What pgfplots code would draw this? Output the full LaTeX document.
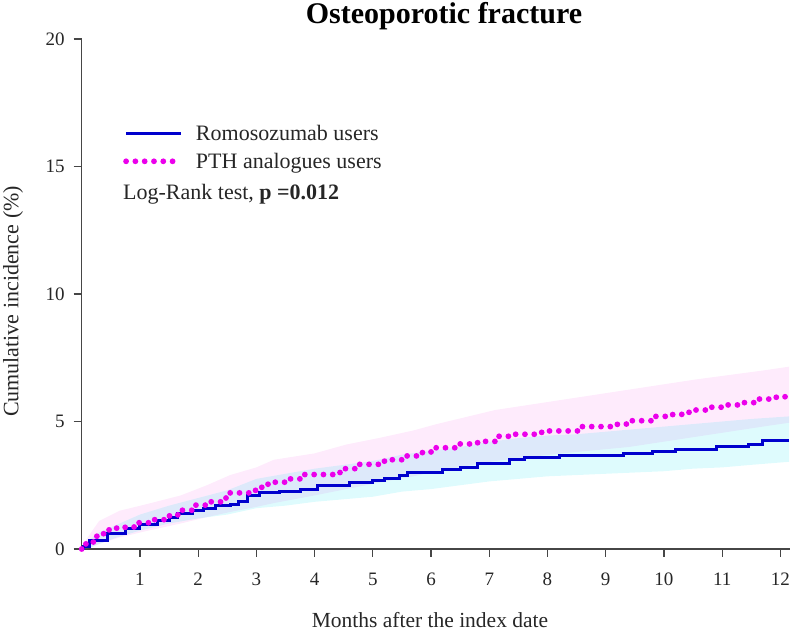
\documentclass[border=0pt]{standalone}
\usepackage{fontspec}
\setmainfont{Liberation Serif}
\usepackage{pgfplots}
\usepackage{pgfplotstable}
\pgfplotsset{compat=1.18}
\usepgfplotslibrary{fillbetween}

\definecolor{romoblue}{RGB}{0,0,205}
\definecolor{pthpink}{RGB}{235,0,235}
\definecolor{romoband}{RGB}{0,225,240}
\definecolor{pthband}{RGB}{245,60,225}
\definecolor{axisgray}{RGB}{70,70,70}

% Kaplan-Meier cumulative incidence, Romosozumab users
\pgfplotstableread{
m v
0 0
0.03 0.1
0.13 0.35
0.45 0.62
0.75 0.8
1.0 0.97
1.3 1.1
1.5 1.22
1.65 1.38
1.9 1.5
2.1 1.6
2.3 1.7
2.55 1.75
2.7 1.85
2.84 2.1
3.05 2.2
3.4 2.25
3.75 2.35
4.05 2.5
4.6 2.6
5.0 2.7
5.2 2.78
5.45 2.9
5.6 3.0
6.2 3.1
6.5 3.2
6.8 3.37
7.35 3.5
7.6 3.58
8.2 3.65
9.3 3.75
9.8 3.82
10.2 3.92
10.9 4.0
11.45 4.1
11.7 4.27
12.15 4.27
}\romo

% Cumulative incidence, PTH analogues users
\pgfplotstableread{
m v
0 0
0.05 0.2
0.2 0.5
0.3 0.6
0.45 0.75
0.6 0.85
0.9 1.03
1.15 1.15
1.45 1.3
1.65 1.52
1.9 1.72
2.2 1.85
2.45 2.0
2.55 2.2
2.95 2.3
3.05 2.42
3.2 2.62
3.5 2.75
3.8 2.92
4.4 3.0
4.5 3.15
4.75 3.32
5.2 3.5
5.55 3.65
5.85 3.78
6.0 3.97
6.5 4.12
6.8 4.22
7.1 4.42
7.45 4.5
7.9 4.63
8.6 4.8
9.2 4.9
9.38 5.03
9.85 5.2
10.15 5.28
10.35 5.36
10.5 5.45
10.8 5.56
11.1 5.65
11.3 5.74
11.6 5.88
11.9 5.95
12.08 6.04
12.15 6.04
}\pth

% 95% confidence bands
\pgfplotstableread{
m lo hi
0 0 0
0.1 0.0 0.3
0.3 0.2 0.65
0.6 0.45 0.95
1.0 0.72 1.35
1.5 1.0 1.7
2.0 1.2 2.0
2.5 1.35 2.3
3.0 1.6 2.75
3.5 1.7 2.95
4.0 1.85 3.15
4.5 1.95 3.3
5.0 2.05 3.45
5.5 2.25 3.7
6.0 2.35 3.85
6.5 2.5 4.0
7.0 2.65 4.2
7.5 2.75 4.35
8.0 2.85 4.45
8.5 2.9 4.5
9.0 2.95 4.6
9.5 3.0 4.7
10.0 3.05 4.8
10.5 3.15 4.9
11.0 3.2 5.0
11.5 3.3 5.1
12.15 3.42 5.2
}\romoci

\pgfplotstableread{
m lo hi
0 0 0
0.1 0.02 0.45
0.3 0.2 1.1
0.65 0.45 1.5
1.1 0.7 1.75
1.7 1.0 2.1
2.15 1.25 2.5
2.55 1.45 2.9
3.0 1.65 3.2
3.3 1.8 3.5
4.0 2.1 3.75
4.55 2.35 4.1
5.1 2.6 4.35
5.7 2.85 4.65
6.1 3.05 4.9
7.1 3.45 5.45
8.25 3.75 5.85
9.4 4.0 6.25
10.55 4.4 6.65
11.7 4.8 7.0
12.15 4.95 7.15
}\pthci

\begin{document}
\begin{tikzpicture}
\begin{axis}[
  at={(0pt,0pt)}, anchor=south west,
  scale only axis, width=708pt, height=510pt,
  xmin=0, xmax=12.16, ymin=0, ymax=20,
  axis x line*=bottom, axis y line*=left,
  axis line style={axisgray, line width=1.2pt},
  xtick={1,...,12}, ytick={0,5,10,15,20},
  tick align=outside, major tick length=8pt,
  tick style={axisgray, line width=1.2pt},
  /pgf/number format/assume math mode=true,
  ticklabel style={font=\fontsize{19}{21}\selectfont, text=black!85, inner sep=0pt},
  xticklabel style={anchor=north, yshift=-16pt},
  yticklabel style={anchor=east, xshift=-9pt},
  clip=false,
  legend cell align=left,
  legend style={draw=none, fill=none, at={(0.0583,0.839)}, anchor=north west,
    font=\fontsize{22}{26}\selectfont, text=black!85, inner sep=0pt,
    nodes={inner sep=0pt, text height=19pt, text depth=9pt},
    /tikz/every odd column/.append style={column sep=12pt}},
  legend image code/.code={\draw[#1] (0pt,2pt) -- (55pt,2pt);},
]
% confidence bands
\addplot[name path=pthhi, draw=none, forget plot] table[x=m, y=hi]{\pthci};
\addplot[name path=pthlo, draw=none, forget plot] table[x=m, y=lo]{\pthci};
\addplot[pthband, fill opacity=0.1, draw=none, forget plot] fill between[of=pthhi and pthlo];
\addplot[name path=romohi, draw=none, forget plot] table[x=m, y=hi]{\romoci};
\addplot[name path=romolo, draw=none, forget plot] table[x=m, y=lo]{\romoci};
\addplot[romoband, fill opacity=0.13, draw=none, forget plot] fill between[of=romohi and romolo];
% curves
\addplot[const plot, romoblue, line width=3pt] table[x=m, y=v]{\romo};
\addlegendentry{Romosozumab users}
\addplot[const plot, pthpink, line width=5.8pt, line cap=round, dash pattern=on 0pt off 9.3pt] table[x=m, y=v]{\pth};
\addlegendentry{PTH analogues users}
\end{axis}
\node[anchor=base west, font=\fontsize{22}{26}\selectfont, text=black!85, inner sep=0pt] at (41.3pt,349pt) {Log-Rank test, \textbf{p =0.012}};
\node[anchor=base, font=\bfseries\fontsize{30}{34}\selectfont, inner sep=0pt] at (362.3pt,525pt) {Osteoporotic fracture};
\node[anchor=base, font=\fontsize{21.5}{24}\selectfont, text=black!85, inner sep=0pt] at (348.3pt,-78pt) {Months after the index date};
\node[anchor=base, rotate=90, font=\fontsize{22}{26}\selectfont, text=black!85, inner sep=0pt] at (-63.2pt,247.5pt) {Cumulative incidence (\%)};
\pgfresetboundingbox
\path (-81.7pt,-82pt) rectangle (715.3pt,549pt);
\end{tikzpicture}
\end{document}
